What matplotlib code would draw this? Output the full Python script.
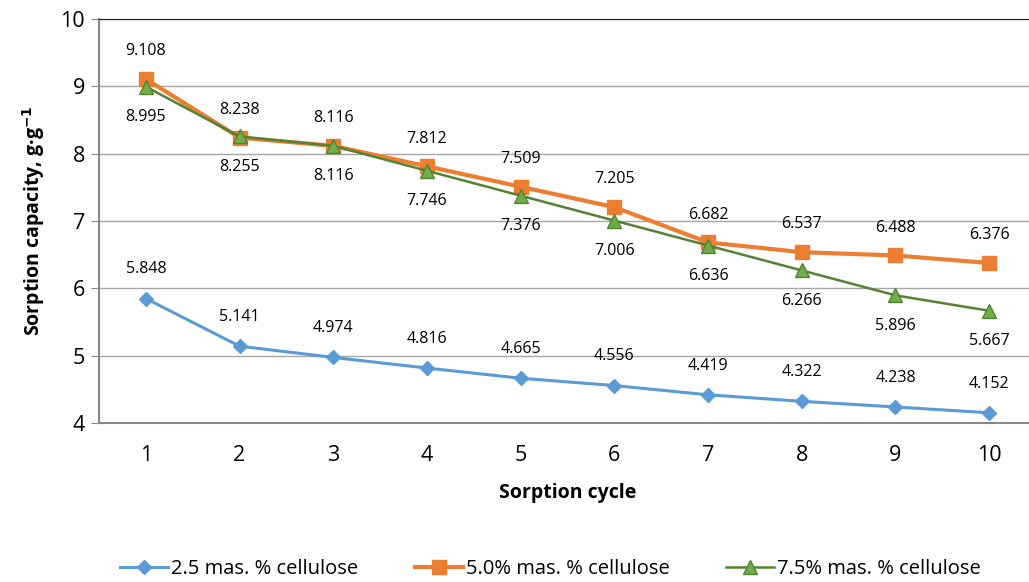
import matplotlib.pyplot as plt

cycles = [1, 2, 3, 4, 5, 6, 7, 8, 9, 10]
cell_25 = [5.848, 5.141, 4.974, 4.816, 4.665, 4.556, 4.419, 4.322, 4.238, 4.152]
cell_50 = [9.108, 8.238, 8.116, 7.812, 7.509, 7.205, 6.682, 6.537, 6.488, 6.376]
cell_75 = [8.995, 8.255, 8.116, 7.746, 7.376, 7.006, 6.636, 6.266, 5.896, 5.667]
labels = ["2.5 mas. % cellulose", "5.0% mas. % cellulose", "7.5% mas. % cellulose"]

plt.rcParams["font.family"] = ["Open Sans", "DejaVu Sans"]

fig = plt.figure(figsize=(10.29, 5.82), dpi=100)
ax = fig.add_axes([99 / 1029, 1 - 423 / 582, 937 / 1029, 404 / 582])

ax.plot(cycles, cell_25, color="#5B9BD5", linewidth=2.2, marker="D", markersize=7,
        markerfacecolor="#5B9BD5", markeredgecolor="#5B9BD5", label=labels[0])
ax.plot(cycles, cell_50, color="#ED7D31", linewidth=3, marker="s", markersize=10,
        markerfacecolor="#ED7D31", markeredgecolor="#ED7D31", label=labels[1])
ax.plot(cycles, cell_75, color="#548235", linewidth=1.8, marker="^", markersize=10,
        markerfacecolor="#70AD47", markeredgecolor="#548235", label=labels[2])

# data labels: blue and orange above, green below
for x, y in zip(cycles, cell_25):
    ax.annotate(f"{y:.3f}", (x, y), xytext=(0, 21), textcoords="offset points",
                ha="center", va="center", fontsize=11.5)
for x, y in zip(cycles, cell_50):
    ax.annotate(f"{y:.3f}", (x, y), xytext=(0, 20), textcoords="offset points",
                ha="center", va="center", fontsize=11.5)
for x, y in zip(cycles, cell_75):
    ax.annotate(f"{y:.3f}", (x, y), xytext=(0, -22), textcoords="offset points",
                ha="center", va="center", fontsize=11.5)

ax.set_xlim(0.5, 10.5)
ax.set_ylim(4, 10)
ax.set_xticks(cycles)
ax.set_yticks(range(4, 11))
ax.tick_params(axis="y", labelsize=15.5, length=6, color="#888888", pad=4)
ax.tick_params(axis="x", labelsize=15.5, length=0, pad=16)
ax.grid(axis="y", color="#A6A6A6", linewidth=1)
ax.set_axisbelow(True)
for side in ["left", "bottom"]:
    ax.spines[side].set_color("#888888")
    ax.spines[side].set_linewidth(1.5)
ax.spines["top"].set_color("#222222")
ax.spines["right"].set_visible(False)

ax.set_xlabel("Sorption cycle", fontsize=14, fontweight="bold", labelpad=12)
ax.set_ylabel("Sorption capacity, g·g$^{\\mathbf{-1}}$", fontsize=14, fontweight="bold", labelpad=10)

fig.legend(loc="center", bbox_to_anchor=(0.535, 0.022), ncol=3, frameon=False,
           fontsize=14.5, handlelength=2.4, columnspacing=2.8, handletextpad=0.15)

plt.savefig("out.png", dpi=100)
